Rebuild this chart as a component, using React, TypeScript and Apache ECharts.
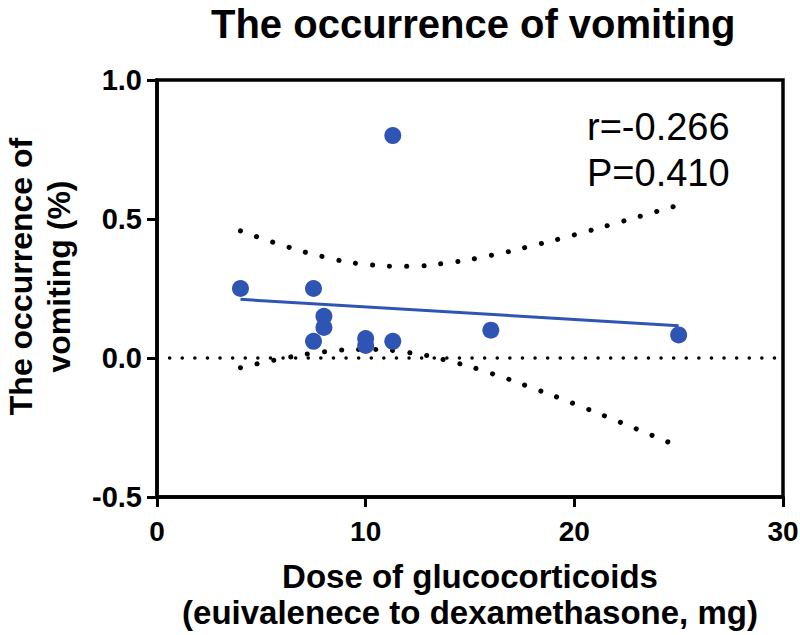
import React, { useEffect, useRef } from "react";
import * as echarts from "echarts";

// Scatter data (dose, occurrence of vomiting)
const doseX = [4, 7.5, 7.5, 8, 8, 10, 10, 11.3, 11.3, 16, 25];
const vomitY = [0.25, 0.25, 0.06, 0.15, 0.11, 0.07, 0.045, 0.8, 0.06, 0.1, 0.083];

// Regression line endpoints
const fitX = [4, 25];
const fitY = [0.211, 0.116];

// 95% confidence band
const bandX = [4, 6, 8, 10, 12, 14, 16, 18, 20, 22, 25];
const bandUpper = [0.457, 0.406, 0.364, 0.337, 0.33, 0.343, 0.369, 0.404, 0.443, 0.485, 0.55];
const bandLower = [-0.035, -0.002, 0.022, 0.031, 0.02, -0.011, -0.055, -0.108, -0.165, -0.225, -0.318];

// Reference line at zero
const refX = [0, 30];
const refY = [0, 0];

const xTicks = { min: 0, max: 30, interval: 10 };
const yTicks = { min: -0.5, max: 1.0, interval: 0.5 };

const titleText = "The occurrence of vomiting";
const xName = "Dose of glucocorticoids\n(euivalenece to dexamethasone, mg)";
const yName = "The occurrence of\nvomiting (%)";
const statText = "r=-0.266\nP=0.410";

const FONT = "'Liberation Sans', Arial, Helvetica, sans-serif";
const BLUE = "#2f55b4";

export default function App() {
  const ref = useRef<HTMLDivElement>(null);
  useEffect(() => {
    if (!ref.current) return;
    const chart = echarts.init(ref.current, undefined, { renderer: "svg" });
    const zip = (xs: number[], ys: number[]) => xs.map((x, i) => [x, ys[i]]);
    chart.setOption({
      animation: false,
      backgroundColor: "#fff",
      textStyle: { fontFamily: FONT },
      title: {
        text: titleText,
        left: 211,
        top: 4,
        padding: 0,
        textStyle: { fontFamily: FONT, fontSize: 40, fontWeight: "bold", color: "#000" },
      },
      grid: {
        left: 157,
        right: 17,
        top: 80,
        bottom: 138,
        show: true,
        borderColor: "#000",
        borderWidth: 3.5,
        containLabel: false,
        outerBoundsMode: "none",
      },
      xAxis: {
        type: "value",
        min: xTicks.min,
        max: xTicks.max,
        interval: xTicks.interval,
        splitLine: { show: false },
        axisLine: { show: true, onZero: false, lineStyle: { color: "#000", width: 3.5 } },
        axisTick: { show: true, length: 10, lineStyle: { color: "#000", width: 3 } },
        axisLabel: { fontFamily: FONT, fontSize: 28, fontWeight: "bold", color: "#000", margin: 20 },
        name: xName,
        nameLocation: "middle",
        nameGap: 61,
        nameTextStyle: { fontFamily: FONT, fontSize: 33, fontWeight: "bold", color: "#000", lineHeight: 36 },
      },
      yAxis: {
        type: "value",
        min: yTicks.min,
        max: yTicks.max,
        interval: yTicks.interval,
        splitLine: { show: false },
        axisLine: { show: true, onZero: false, lineStyle: { color: "#000", width: 3.5 } },
        axisTick: { show: true, length: 10, lineStyle: { color: "#000", width: 3 } },
        axisLabel: {
          fontFamily: FONT,
          fontSize: 29,
          fontWeight: "bold",
          color: "#000",
          margin: 15,
          formatter: (v: number) => v.toFixed(1),
        },
        name: yName,
        nameLocation: "middle",
        nameRotate: 90,
        nameGap: 79,
        nameTextStyle: {
          fontFamily: FONT,
          fontSize: 32,
          fontWeight: "bold",
          color: "#000",
          lineHeight: 38,
          padding: [0, 0, 0, 24],
        },
      },
      graphic: [
        {
          type: "text",
          left: 587,
          top: 104,
          style: {
            text: statText,
            font: `38px ${FONT}`,
            fill: "#000",
            lineHeight: 46,
          },
        },
      ],
      series: [
        {
          type: "line",
          data: zip(refX, refY),
          symbol: "none",
          silent: true,
          lineStyle: { color: "#000", width: 3.5, type: [0.1, 12.5], cap: "round" },
          z: 1,
        },
        {
          type: "line",
          data: zip(bandX, bandUpper),
          smooth: true,
          symbol: "none",
          silent: true,
          lineStyle: { color: "#000", width: 5, type: [0.1, 17], cap: "round" },
          z: 2,
        },
        {
          type: "line",
          data: zip(bandX, bandLower),
          smooth: true,
          symbol: "none",
          silent: true,
          lineStyle: { color: "#000", width: 5, type: [0.1, 17], cap: "round" },
          z: 2,
        },
        {
          type: "line",
          data: zip(fitX, fitY),
          symbol: "none",
          silent: true,
          lineStyle: { color: BLUE, width: 3 },
          z: 3,
        },
        {
          type: "scatter",
          data: zip(doseX, vomitY),
          symbol: "circle",
          symbolSize: 17,
          itemStyle: { color: BLUE, opacity: 1 },
          z: 4,
        },
      ],
    });
    return () => chart.dispose();
  }, []);
  return <div ref={ref} style={{ width: 800, height: 635, position: "absolute", left: 0, top: 0 }} />;
}
